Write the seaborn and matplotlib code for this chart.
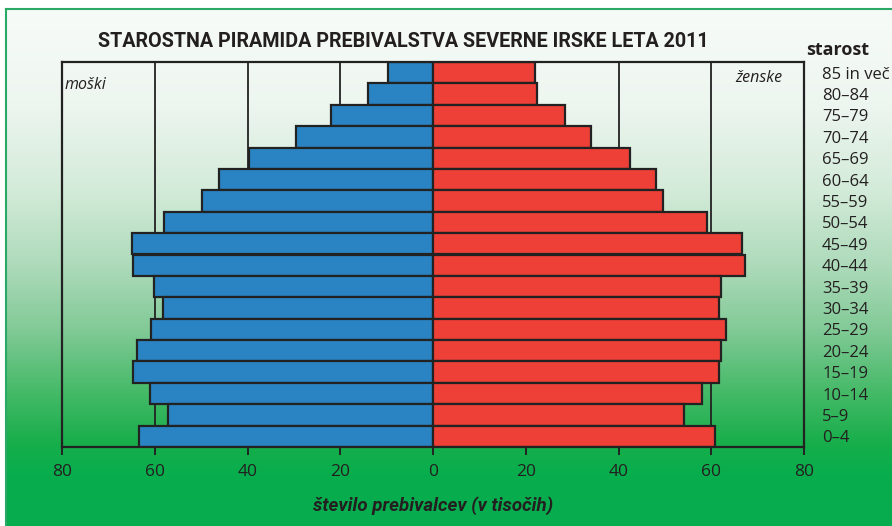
"""Starostna piramida prebivalstva Severne Irske, 2011."""

import matplotlib

matplotlib.use("Agg")

import matplotlib.pyplot as plt
import numpy as np
import pandas as pd
import seaborn as sns
from matplotlib.colors import LinearSegmentedColormap
from matplotlib.ticker import FixedLocator, FuncFormatter

sns.set_theme(style="white")
plt.rcParams["font.family"] = ["Open Sans", "DejaVu Sans"]

TITLE = "STAROSTNA PIRAMIDA PREBIVALSTVA SEVERNE IRSKE LETA 2011"
X_LABEL = "število prebivalcev (v tisočih)"

AGE_GROUPS = [
    "85 in več", "80–84", "75–79", "70–74", "65–69", "60–64", "55–59",
    "50–54", "45–49", "40–44", "35–39", "30–34", "25–29", "20–24",
    "15–19", "10–14", "5–9", "0–4",
]
MALE = [9.6, 14.0, 21.9, 29.5, 39.7, 46.2, 49.8, 57.9, 65.0,
        64.6, 60.2, 58.2, 60.8, 63.9, 64.6, 61.0, 57.1, 63.5]
FEMALE = [21.9, 22.4, 28.5, 34.1, 42.5, 48.1, 49.6, 59.0, 66.6,
          67.3, 62.0, 61.6, 63.2, 62.0, 61.6, 58.0, 54.1, 60.8]
X_TICKS = [-80, -60, -40, -20, 0, 20, 40, 60, 80]

MALE_COLOR = "#2a84c4"
FEMALE_COLOR = "#ee4037"
INK = "#231f20"
NARROW = ["Roboto", "DejaVu Sans"]

df = pd.concat([
    pd.DataFrame({"starost": AGE_GROUPS, "value": [-v for v in MALE], "spol": "moški"}),
    pd.DataFrame({"starost": AGE_GROUPS, "value": FEMALE, "spol": "ženske"}),
])

fig = plt.figure(figsize=(8.92, 5.26), dpi=100)

# background panel: white at the top fading into green
bg = fig.add_axes([6 / 892, 0, 1 - 6 / 892, 1 - 9 / 526], zorder=0)
cmap = LinearSegmentedColormap.from_list(
    "bg",
    [(0.0, "#f7fbf8"), (0.18, "#eef6f0"), (0.35, "#d3ebd9"), (0.5, "#acdab9"),
     (0.62, "#82ca97"), (0.74, "#46ba68"), (0.84, "#18ae4b"),
     (0.9, "#08ad4d"), (1.0, "#06ac4e")],
)
bg.imshow(np.linspace(0, 1, 256).reshape(-1, 1), aspect="auto", cmap=cmap,
          extent=(0, 1, 0, 1))
bg.set_xticks([])
bg.set_yticks([])
for side in ("right", "bottom"):
    bg.spines[side].set_visible(False)
for side in ("top", "left"):
    bg.spines[side].set_color("#2aa866")
    bg.spines[side].set_linewidth(1.5)

ax = fig.add_axes([62 / 892, 79 / 526, 742 / 892, 385 / 526], zorder=1)
ax.patch.set_alpha(0)

sns.barplot(
    data=df, x="value", y="starost", hue="spol", order=AGE_GROUPS,
    palette={"moški": MALE_COLOR, "ženske": FEMALE_COLOR},
    dodge=False, width=1.0, saturation=1, edgecolor="#222222", linewidth=1.6,
    legend=False, ax=ax,
)

ax.set_xlim(-80, 80)
ax.set_ylim(len(AGE_GROUPS) - 0.5, -0.5)
ax.xaxis.set_major_locator(FixedLocator(X_TICKS))
ax.xaxis.set_major_formatter(FuncFormatter(lambda v, _: f"{abs(int(v))}"))
ax.grid(axis="x", color="#222222", linewidth=1.3)
ax.grid(axis="y", visible=False)
ax.set_axisbelow(True)

for spine in ax.spines.values():
    spine.set_visible(True)
    spine.set_color("#222222")
    spine.set_linewidth(1.6)

ax.tick_params(axis="x", direction="out", length=6, width=1.4, color="#222222",
               labelsize=12.5, labelcolor=INK, pad=6, bottom=True)
ax.yaxis.tick_right()
ax.tick_params(axis="y", length=0, labelsize=12, labelcolor=INK, pad=13)
for lbl in ax.get_yticklabels():
    lbl.set_horizontalalignment("left")

ax.set_ylabel("")
ax.set_xlabel(X_LABEL, fontsize=13.5, fontweight="bold", fontstyle="italic",
              color=INK, labelpad=12, family=NARROW)

ax.text(0.004, 0.94, "moški", transform=ax.transAxes, fontsize=11.5,
        fontstyle="italic", color=INK, ha="left", va="center")
ax.text(0.971, 0.958, "ženske", transform=ax.transAxes, fontsize=11.5,
        fontstyle="italic", color=INK, ha="right", va="center")

fig.text(403 / 892, 1 - 41 / 526, TITLE, fontsize=14.2, fontweight="bold",
         color=INK, ha="center", va="center", family=NARROW)
fig.text(806 / 892, 1 - 50 / 526, "starost", fontsize=13, fontweight="bold",
         color=INK, ha="left", va="center")

fig.savefig("out.png", dpi=100)
